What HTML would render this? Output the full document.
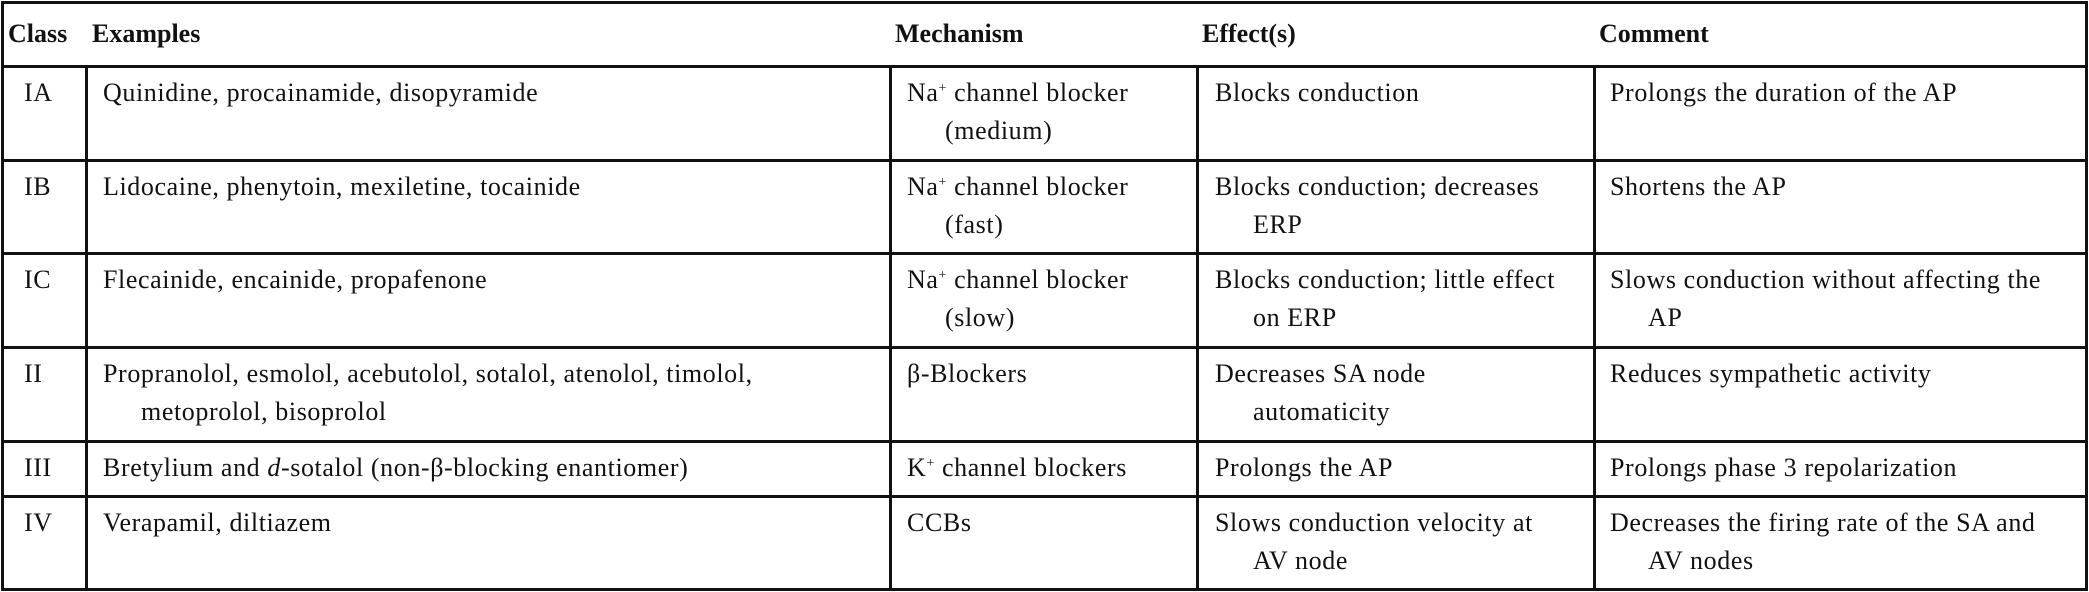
<!DOCTYPE html>
<html><head><meta charset="utf-8"><style>
body{margin:0;width:2089px;height:592px;background:#fff;position:relative;overflow:hidden;font-family:"Liberation Serif",serif;font-size:26px;color:#111;letter-spacing:0.6px}
.h{position:absolute;background:#111;height:3px}
.v{position:absolute;background:#111;width:3px}
.t{position:absolute;white-space:nowrap;line-height:38px}
.t .c{display:block;padding-left:38px}
.b{font-weight:bold;letter-spacing:0}
sup{font-size:14px;vertical-align:9px;line-height:0}
</style></head><body>
<div class="h" style="left:1px;top:1px;width:2087px"></div>
<div class="h" style="left:1px;top:65px;width:2087px"></div>
<div class="h" style="left:1px;top:159px;width:2087px"></div>
<div class="h" style="left:1px;top:252px;width:2087px"></div>
<div class="h" style="left:1px;top:346px;width:2087px"></div>
<div class="h" style="left:1px;top:440px;width:2087px"></div>
<div class="h" style="left:1px;top:495px;width:2087px"></div>
<div class="h" style="left:1px;top:588px;width:2087px"></div>
<div class="v" style="left:1px;top:1px;height:590px"></div>
<div class="v" style="left:2085px;top:1px;height:590px"></div>
<div class="v" style="left:85px;top:65px;height:526px"></div>
<div class="v" style="left:889px;top:65px;height:526px"></div>
<div class="v" style="left:1196px;top:65px;height:526px"></div>
<div class="v" style="left:1593px;top:65px;height:526px"></div>

<div class="t b" style="left:8px;top:15px">Class</div>
<div class="t b" style="left:92px;top:15px">Examples</div>
<div class="t b" style="left:895px;top:15px">Mechanism</div>
<div class="t b" style="left:1202px;top:15px">Effect(s)</div>
<div class="t b" style="left:1599px;top:15px">Comment</div>

<!-- IA -->
<div class="t" style="left:24px;top:74px">IA</div>
<div class="t" style="left:103px;top:74px">Quinidine, procainamide, disopyramide</div>
<div class="t" style="left:907px;top:74px">Na<sup>+</sup> channel blocker<span class="c">(medium)</span></div>
<div class="t" style="left:1215px;top:74px">Blocks conduction</div>
<div class="t" style="left:1610px;top:74px">Prolongs the duration of the AP</div>
<!-- IB -->
<div class="t" style="left:24px;top:168px">IB</div>
<div class="t" style="left:103px;top:168px">Lidocaine, phenytoin, mexiletine, tocainide</div>
<div class="t" style="left:907px;top:168px">Na<sup>+</sup> channel blocker<span class="c">(fast)</span></div>
<div class="t" style="left:1215px;top:168px">Blocks conduction; decreases<span class="c">ERP</span></div>
<div class="t" style="left:1610px;top:168px">Shortens the AP</div>
<!-- IC -->
<div class="t" style="left:24px;top:261px">IC</div>
<div class="t" style="left:103px;top:261px">Flecainide, encainide, propafenone</div>
<div class="t" style="left:907px;top:261px">Na<sup>+</sup> channel blocker<span class="c">(slow)</span></div>
<div class="t" style="left:1215px;top:261px">Blocks conduction; little effect<span class="c">on ERP</span></div>
<div class="t" style="left:1610px;top:261px">Slows conduction without affecting the<span class="c">AP</span></div>
<!-- II -->
<div class="t" style="left:24px;top:355px">II</div>
<div class="t" style="left:103px;top:355px">Propranolol, esmolol, acebutolol, sotalol, atenolol, timolol,<span class="c">metoprolol, bisoprolol</span></div>
<div class="t" style="left:907px;top:355px">β-Blockers</div>
<div class="t" style="left:1215px;top:355px">Decreases SA node<span class="c">automaticity</span></div>
<div class="t" style="left:1610px;top:355px">Reduces sympathetic activity</div>
<!-- III -->
<div class="t" style="left:24px;top:449px">III</div>
<div class="t" style="left:103px;top:449px">Bretylium and <i>d</i>-sotalol (non-β-blocking enantiomer)</div>
<div class="t" style="left:907px;top:449px">K<sup>+</sup> channel blockers</div>
<div class="t" style="left:1215px;top:449px">Prolongs the AP</div>
<div class="t" style="left:1610px;top:449px">Prolongs phase 3 repolarization</div>
<!-- IV -->
<div class="t" style="left:24px;top:504px">IV</div>
<div class="t" style="left:103px;top:504px">Verapamil, diltiazem</div>
<div class="t" style="left:907px;top:504px">CCBs</div>
<div class="t" style="left:1215px;top:504px">Slows conduction velocity at<span class="c">AV node</span></div>
<div class="t" style="left:1610px;top:504px">Decreases the firing rate of the SA and<span class="c">AV nodes</span></div>
</body></html>
